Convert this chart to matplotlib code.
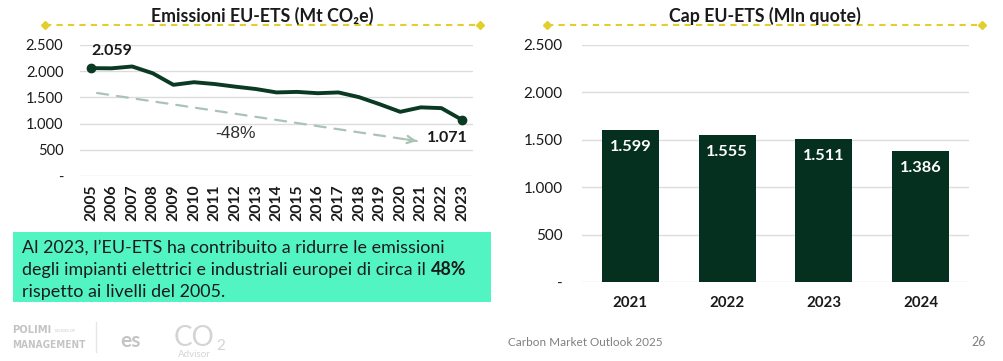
import matplotlib.pyplot as plt
from matplotlib.lines import Line2D
from matplotlib.patches import Rectangle

# emissioni EU-ETS (Mt CO2e)
anni = list(range(2005, 2024))
emissioni = [2059, 2055, 2090, 1960, 1740, 1790, 1755, 1705, 1660, 1595,
             1605, 1580, 1595, 1505, 1370, 1225, 1310, 1295, 1071]

# cap EU-ETS (Mln quote)
anni_cap = ['2021', '2022', '2023', '2024']
cap = [1599, 1555, 1511, 1386]

yticks = [0, 500, 1000, 1500, 2000, 2500]
ylabels = ['-', '500', '1.000', '1.500', '2.000', '2.500']

plt.rcParams['font.family'] = ['Lato', 'DejaVu Sans']

W, H = 1004, 361
DARK = '#0b3a22'
BAR = '#05301f'
GRID = '#dcdcdc'
YELLOW = '#e3cf2c'
TXT = '#1a1a1a'


def fx(px):
    return px / W


def fy(py):
    return 1 - py / H


def fmt(v):
    return f"{v:,}".replace(',', '.')


def style_axes(ax, fs, pad):
    for s in ax.spines.values():
        s.set_visible(False)
    ax.set_yticks(yticks)
    ax.set_yticklabels(ylabels, fontsize=fs, color=TXT)
    ax.set_ylim(0, 2500)
    ax.grid(axis='y', color=GRID, linewidth=1)
    ax.set_axisbelow(True)
    ax.tick_params(length=0)
    ax.tick_params(axis='y', pad=pad)


def header(title, x0, x1):
    fig.add_artist(Line2D([fx(x0), fx(x1)], [fy(25), fy(25)], color=YELLOW,
                          linestyle=(0, (3, 2.5)), linewidth=1.5))
    fig.add_artist(Line2D([fx(x0), fx(x1)], [fy(25), fy(25)], color=YELLOW,
                          linestyle='none', marker='D', markersize=4))
    fig.text(fx((x0 + x1) / 2), fy(22), title, ha='center', va='baseline',
             fontsize=12.8, fontweight='bold', color=TXT)


fig = plt.figure(figsize=(W / 100, H / 100), dpi=100)

# --- grafico emissioni ---
ax1 = fig.add_axes([fx(80), fy(176), fx(473 - 80), (176 - 45) / H])
style_axes(ax1, 10.5, 12)
ax1.set_xlim(2004.47, 2023.53)
ax1.plot(anni, emissioni, color=DARK, linewidth=2.8, solid_joinstyle='round',
         solid_capstyle='round')
ax1.plot([anni[0], anni[-1]], [emissioni[0], emissioni[-1]], 'o', color=DARK,
         markersize=6)
ax1.set_xticks(anni)
ax1.set_xticklabels([str(a) for a in anni], rotation=90, fontsize=11.3,
                    fontweight='bold', color=TXT)
ax1.tick_params(axis='x', pad=6)
ax1.annotate(fmt(emissioni[0]), (anni[0], emissioni[0]), xytext=(0, 7),
             textcoords='offset points', ha='left', va='bottom', fontsize=11.5,
             fontweight='bold', color=TXT)
ax1.annotate(fmt(emissioni[-1]), (anni[-1], emissioni[-1]), xytext=(4, -8),
             textcoords='offset points', ha='right', va='top', fontsize=11.5,
             fontweight='bold', color=TXT)
# freccia tratteggiata
ax1.annotate('', xy=(2020.8, 668), xytext=(2005.3, 1584),
             arrowprops=dict(arrowstyle='-', color='#aac3b6', lw=1.6,
                             linestyle=(0, (5, 4)), shrinkA=0, shrinkB=0))
ax1.annotate('', xy=(2020.8, 668), xytext=(2020.3, 698),
             arrowprops=dict(arrowstyle='->', color='#aac3b6', lw=1.6,
                             mutation_scale=13, shrinkA=0, shrinkB=0))
ax1.text(2012.0, 820, '-48%', fontsize=12.5, color='#303030',
         family=['Liberation Sans', 'DejaVu Sans'], ha='center', va='center')
header('Emissioni EU-ETS (Mt CO₂e)', 45, 480)

# --- grafico cap ---
ax2 = fig.add_axes([fx(582), fy(282), fx(969 - 582), (282 - 45) / H])
style_axes(ax2, 11, 14)
ax2.set_xlim(-0.5, 3.5)
xs = range(len(cap))
ax2.bar(xs, cap, width=0.59, color=BAR)
for x, v in zip(xs, cap):
    ax2.text(x, v - 105, fmt(v), ha='center', va='top', color='white',
             fontsize=11.8, fontweight='bold')
ax2.set_xticks(list(xs))
ax2.set_xticklabels(anni_cap, fontsize=10.8, fontweight='bold', color=TXT)
ax2.tick_params(axis='x', pad=10)
header('Cap EU-ETS (Mln quote)', 547, 982)

# --- box testo ---
fig.add_artist(Rectangle((fx(13), fy(302)), fx(491 - 13), (302 - 232) / H,
                         facecolor='#52f5c1', edgecolor='none'))
riga_fs = 12.9
fig.text(fx(22), fy(253), "Al 2023, l’EU-ETS ha contribuito a ridurre le emissioni",
         fontsize=riga_fs, color=TXT, va='baseline')
t2 = fig.text(fx(22), fy(275),
              "degli impianti elettrici e industriali europei di circa il ",
              fontsize=riga_fs, color=TXT, va='baseline')
fig.text(fx(22), fy(297), "rispetto ai livelli del 2005.", fontsize=riga_fs,
         color=TXT, va='baseline')
r = fig.canvas.get_renderer()
bb = t2.get_window_extent(renderer=r)
fig.text(bb.x1 / W, fy(275), "48%", fontsize=riga_fs, color=TXT,
         fontweight='bold', va='baseline')

# --- piè di pagina ---
GREY = '#c4c4c4'
fig.text(fx(12), fy(333), 'POLIMI', fontsize=8, color=GREY, fontweight='bold',
         family='DejaVu Sans', fontstretch='condensed', va='baseline')
fig.text(fx(55), fy(332), 'SCHOOL OF', fontsize=2.5, color=GREY, va='baseline')
fig.text(fx(12), fy(348), 'MANAGEMENT', fontsize=7.2, color=GREY,
         fontweight='bold', family='DejaVu Sans', fontstretch='condensed',
         va='baseline')
fig.add_artist(Line2D([fx(96), fx(96)], [fy(322), fy(352)], color='#e6e6e6', lw=1))
fig.text(fx(120), fy(347), 'es', fontsize=15, color=GREY, fontweight='bold',
         va='baseline')
fig.text(fx(174), fy(346), 'CO', fontsize=20, color='#d4d4d4', va='baseline')
fig.text(fx(216), fy(350), '2', fontsize=11, color='#d4d4d4', va='baseline')
fig.text(fx(178), fy(357), 'Advisor', fontsize=7, color='#d4d4d4', va='baseline')
fig.text(fx(508), fy(346), 'Carbon Market Outlook 2025', fontsize=8.5,
         color='#808080', va='baseline')
fig.text(fx(986), fy(346), '26', fontsize=9, color='#808080', ha='right',
         va='baseline')

fig.savefig('out.png', dpi=100)
